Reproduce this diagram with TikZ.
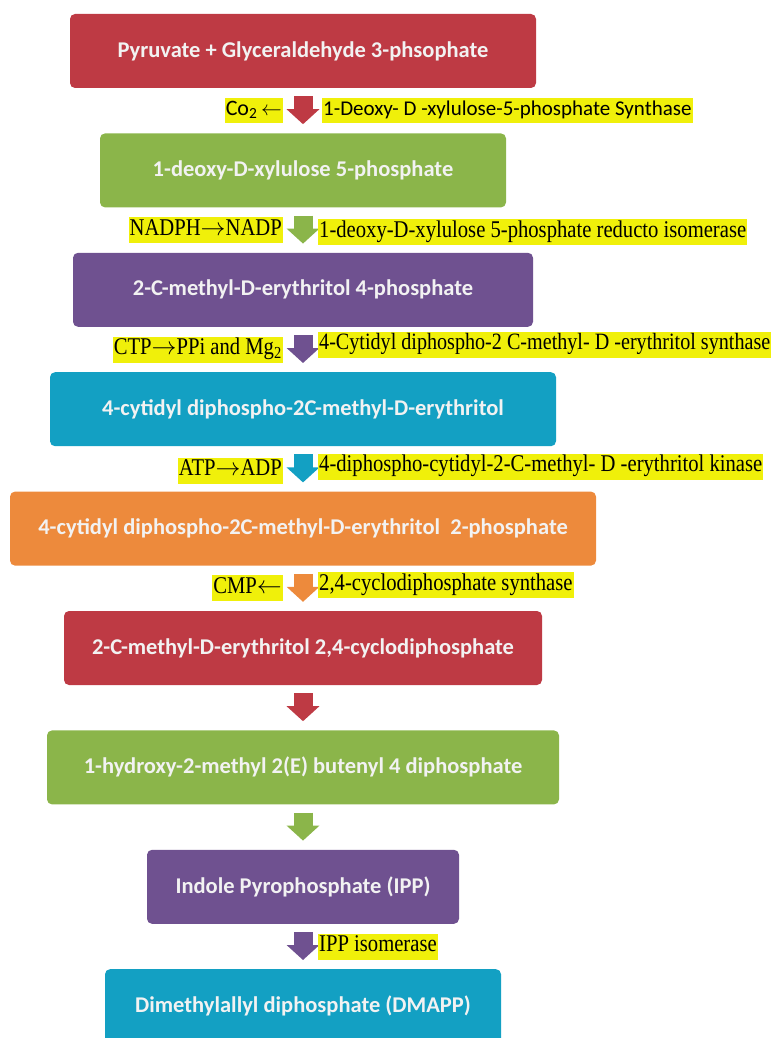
\documentclass[tikz,border=0pt]{standalone}
\usepackage{fontspec}
\setmainfont{Liberation Serif}
\newfontfamily\stagefont{Carlito}
\newfontfamily\enzfont[FakeStretch=0.86]{Liberation Serif}
\usetikzlibrary{positioning, arrows.meta}
\definecolor{stred}{RGB}{190,58,68}
\definecolor{stgreen}{RGB}{139,181,74}
\definecolor{stpurple}{RGB}{111,81,144}
\definecolor{stteal}{RGB}{19,160,195}
\definecolor{storange}{RGB}{237,138,60}
\definecolor{hilite}{RGB}{240,240,10}

\begin{document}
\begin{tikzpicture}[x=1pt, y=1pt, node distance=45pt,
      stage/.style={rectangle, rounded corners=5pt, minimum height=74pt, inner sep=0pt,
        text=white!95!black, font=\stagefont\bfseries\fontsize{22.5}{26}\selectfont},
      flow/.style={line width=19pt, -{Triangle[width=32pt,length=15pt]},
        shorten <=8pt, shorten >=9pt},
      enz/.style={fill=hilite, inner xsep=1pt, inner ysep=2pt, text height=16pt,
        text depth=6pt, font=\enzfont\fontsize{24}{27}\selectfont},
      enzsans/.style={enz, text height=15pt, font=\stagefont\fontsize{21}{24}\selectfont}]

      \useasboundingbox (0,0) rectangle (775,-1038);
      \clip (0,0) rectangle (775,-1038);

      % pathway stages
      \node[stage, fill=stred, minimum width=466pt] (b1) at (303,-51)
        {Pyruvate + Glyceraldehyde 3-phsophate};
      \node[stage, fill=stgreen, minimum width=406pt, below=of b1] (b2)
        {1-deoxy-D-xylulose 5-phosphate};
      \node[stage, fill=stpurple, minimum width=460pt, below=of b2] (b3)
        {2-C-methyl-D-erythritol 4-phosphate};
      \node[stage, fill=stteal, minimum width=506pt, below=of b3] (b4)
        {4-cytidyl diphospho-2C-methyl-D-erythritol};
      \node[stage, fill=storange, minimum width=586pt, below=of b4] (b5)
        {4-cytidyl diphospho-2C-methyl-D-erythritol~ 2-phosphate};
      \node[stage, fill=stred, minimum width=478pt, below=of b5] (b6)
        {2-C-methyl-D-erythritol 2,4-cyclodiphosphate};
      \node[stage, fill=stgreen, minimum width=512pt, below=of b6] (b7)
        {1-hydroxy-2-methyl 2(E) butenyl 4 diphosphate};
      \node[stage, fill=stpurple, minimum width=312pt, below=of b7] (b8)
        {Indole Pyrophosphate (IPP)};
      \node[stage, fill=stteal, minimum width=396pt, below=of b8] (b9)
        {Dimethylallyl diphosphate (DMAPP)};

      % steps
      \draw[flow, stred] (b1) -- coordinate (a1) (b2);
      \draw[flow, stgreen] (b2) -- coordinate (a2) (b3);
      \draw[flow, stpurple] (b3) -- coordinate (a3) (b4);
      \draw[flow, stteal] (b4) -- coordinate (a4) (b5);
      \draw[flow, storange] (b5) -- coordinate (a5) (b6);
      \draw[flow, stred] (b6) -- coordinate (a6) (b7);
      \draw[flow, stgreen] (b7) -- coordinate (a7) (b8);
      \draw[flow, stpurple] (b8) -- coordinate (a8) (b9);

      % cofactors and enzymes
      \node[enzsans, left=20pt of a1, font=\stagefont\fontsize{22}{24}\selectfont] (c1)
        {Co\textsubscript{2}\,$\leftarrow$\hspace{5pt}};
      \node[enzsans, right=19pt of a1] (e1) {1-Deoxy- D -xylulose-5-phosphate Synthase};
      \node[enz, left=20pt of a2] (c2) {NADPH$\rightarrow$NADP};
      \node[enz, right=15pt of a2, yshift=-2pt] (e2) {1-deoxy-D-xylulose 5-phosphate reducto isomerase};
      \node[enz, left=20pt of a3] (c3) {CTP$\rightarrow$PPi and Mg\textsubscript{2}};
      \node[enz, right=15pt of a3, yshift=5pt, font=\enzfont\fontsize{23.4}{27}\selectfont] (e3)
        {4-Cytidyl diphospho-2 C-methyl- D -erythritol synthase};
      \node[enz, left=20pt of a4, yshift=-2pt] (c4) {ATP$\rightarrow$ADP};
      \node[enz, right=15pt of a4, yshift=2pt] (e4) {4-diphospho-cytidyl-2-C-methyl- D -erythritol kinase};
      \node[enz, left=20pt of a5] (c5) {CMP$\leftarrow$};
      \node[enz, right=15pt of a5, yshift=3pt] (e5) {2,4-cyclodiphosphate synthase};
      \node[enz, right=15pt of a8] (e8) {IPP isomerase};
    \end{tikzpicture}
\end{document}
